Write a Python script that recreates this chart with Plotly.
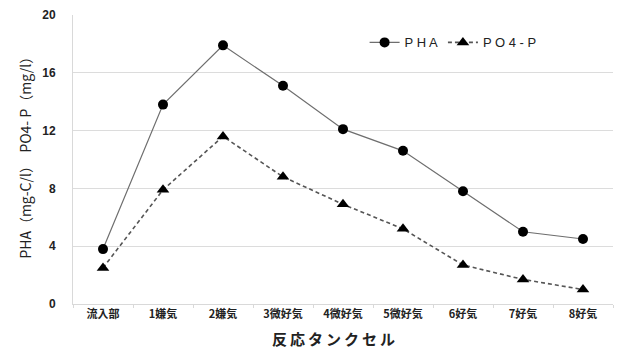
import plotly.graph_objects as go

categories = ["流入部", "1嫌気", "2嫌気", "3微好気", "4微好気", "5微好気", "6好気", "7好気", "8好気"]
pha = [3.8, 13.8, 17.9, 15.1, 12.1, 10.6, 7.8, 5.0, 4.5]
po4p = [2.5, 7.9, 11.6, 8.8, 6.9, 5.2, 2.7, 1.7, 1.0]
y_ticks = [0, 4, 8, 12, 16, 20]

cjk = "Noto Sans CJK JP, Liberation Sans, sans-serif"

fig = go.Figure()
fig.add_trace(go.Scatter(
    x=categories, y=pha, name="P H A", mode="lines+markers",
    line=dict(color="#6e6e6e", width=1.2),
    marker=dict(symbol="circle", size=10, color="black"),
))
fig.add_trace(go.Scatter(
    x=categories, y=po4p, name="P O 4 - P", mode="lines+markers",
    line=dict(color="#555555", width=1.6, dash="4px,3px"),
    marker=dict(symbol="triangle-up", size=11, color="black"),
))

fig.update_layout(
    width=618, height=349,
    margin=dict(l=73, r=5, t=15, b=45),
    paper_bgcolor="white", plot_bgcolor="white",
    font=dict(family=cjk, color="black"),
    showlegend=True,
    legend=dict(
        orientation="h", x=0.54, y=0.905, xanchor="left", yanchor="middle",
        font=dict(family="Liberation Sans, Arial, sans-serif", size=13, color="#222"),
        itemwidth=30, bgcolor="rgba(0,0,0,0)", tracegroupgap=0,
    ),
    xaxis=dict(
        type="category", tickmode="array", tickvals=categories, ticktext=categories,
        range=[-0.5, len(categories) - 0.5],
        showgrid=False, showline=True, linecolor="#d9d9d9", linewidth=1,
        ticks="outside", tickson="boundaries", ticklen=3, tickcolor="#d9d9d9",
        tickfont=dict(family=cjk, size=11, color="#222", weight="bold"),
        zeroline=False,
    ),
    yaxis=dict(
        range=[0, 20], tickmode="array", tickvals=y_ticks,
        showgrid=True, gridcolor="#dcdcdc", gridwidth=1,
        showline=True, linecolor="#d9d9d9", linewidth=1,
        ticks="", ticklabelstandoff=14,
        tickfont=dict(family="Liberation Sans, Arial, sans-serif", size=12, color="#222", weight="bold"),
        zeroline=False,
    ),
)

fig.add_annotation(
    text="PHA（mg-C/l）  PO4- P（mg/l）", textangle=-90,
    xref="paper", yref="paper", x=-0.089, y=0.52, xanchor="center", yanchor="middle",
    showarrow=False, font=dict(family=cjk, size=14, color="#222"),
)
fig.add_annotation(
    text="\u2009".join("反応タンクセル"),
    xref="paper", yref="paper", x=0.483, y=-0.118, xanchor="center", yanchor="middle",
    showarrow=False, font=dict(family=cjk, size=15, color="#222", weight="bold"),
)

fig.write_html(
    "out.html",
    config={"displayModeBar": False},
    post_script="document.body.style.margin='0';document.body.style.overflow='hidden';",
)
